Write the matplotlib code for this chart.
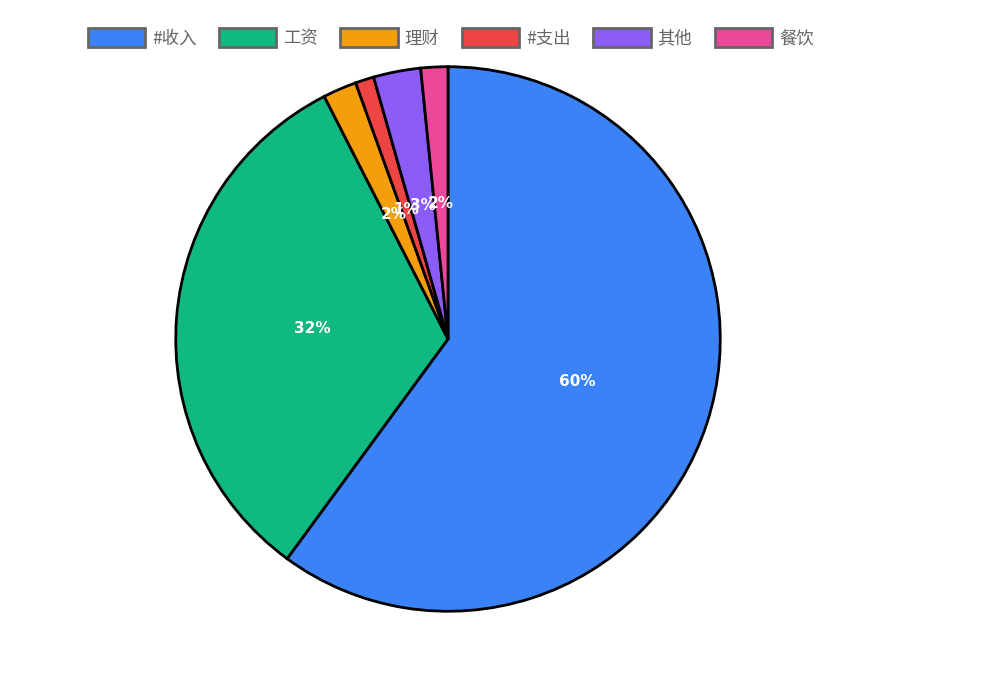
import matplotlib
matplotlib.use("Agg")
import matplotlib.pyplot as plt
from matplotlib.patches import Patch

plt.rcParams['font.family'] = ['Noto Sans CJK SC', 'DejaVu Sans']

categories = ['#收入', '工资', '理财', '#支出', '其他', '餐饮']
values = [60.0, 32.4, 2.0, 1.1, 2.8, 1.6]
colors = ['#3b82f6', '#10b981', '#f59e0b', '#ef4444', '#8b5cf6', '#ec4899']

fig = plt.figure(figsize=(9.93, 6.81), dpi=100)
W, H = 993, 681
cx, cy, r = 448, 339, 275
ax = fig.add_axes([(cx - r) / W, (H - cy - r) / H, 2 * r / W, 2 * r / H])
ax.pie(values, colors=colors, startangle=90, counterclock=False, radius=1,
       wedgeprops=dict(edgecolor='black', linewidth=2),
       autopct=lambda p: f'{p:.0f}%', pctdistance=0.5,
       textprops=dict(color='white', fontsize=11, fontweight='bold', family='DejaVu Sans'))
ax.set_xlim(-1.01, 1.01)
ax.set_ylim(-1.01, 1.01)
ax.set_aspect('equal')
ax.axis('off')

handles = [Patch(facecolor=c, edgecolor='#666666', linewidth=2, label=l) for c, l in zip(colors, categories)]
fig.legend(handles=handles, loc='center left', bbox_to_anchor=(72 / W, 1 - 38 / H), ncol=6,
           frameon=False, handlelength=3.3, handleheight=1.3, handletextpad=0.4,
           columnspacing=1.3, fontsize=12.5, labelcolor='#666666')
fig.savefig('out.png', dpi=100)
